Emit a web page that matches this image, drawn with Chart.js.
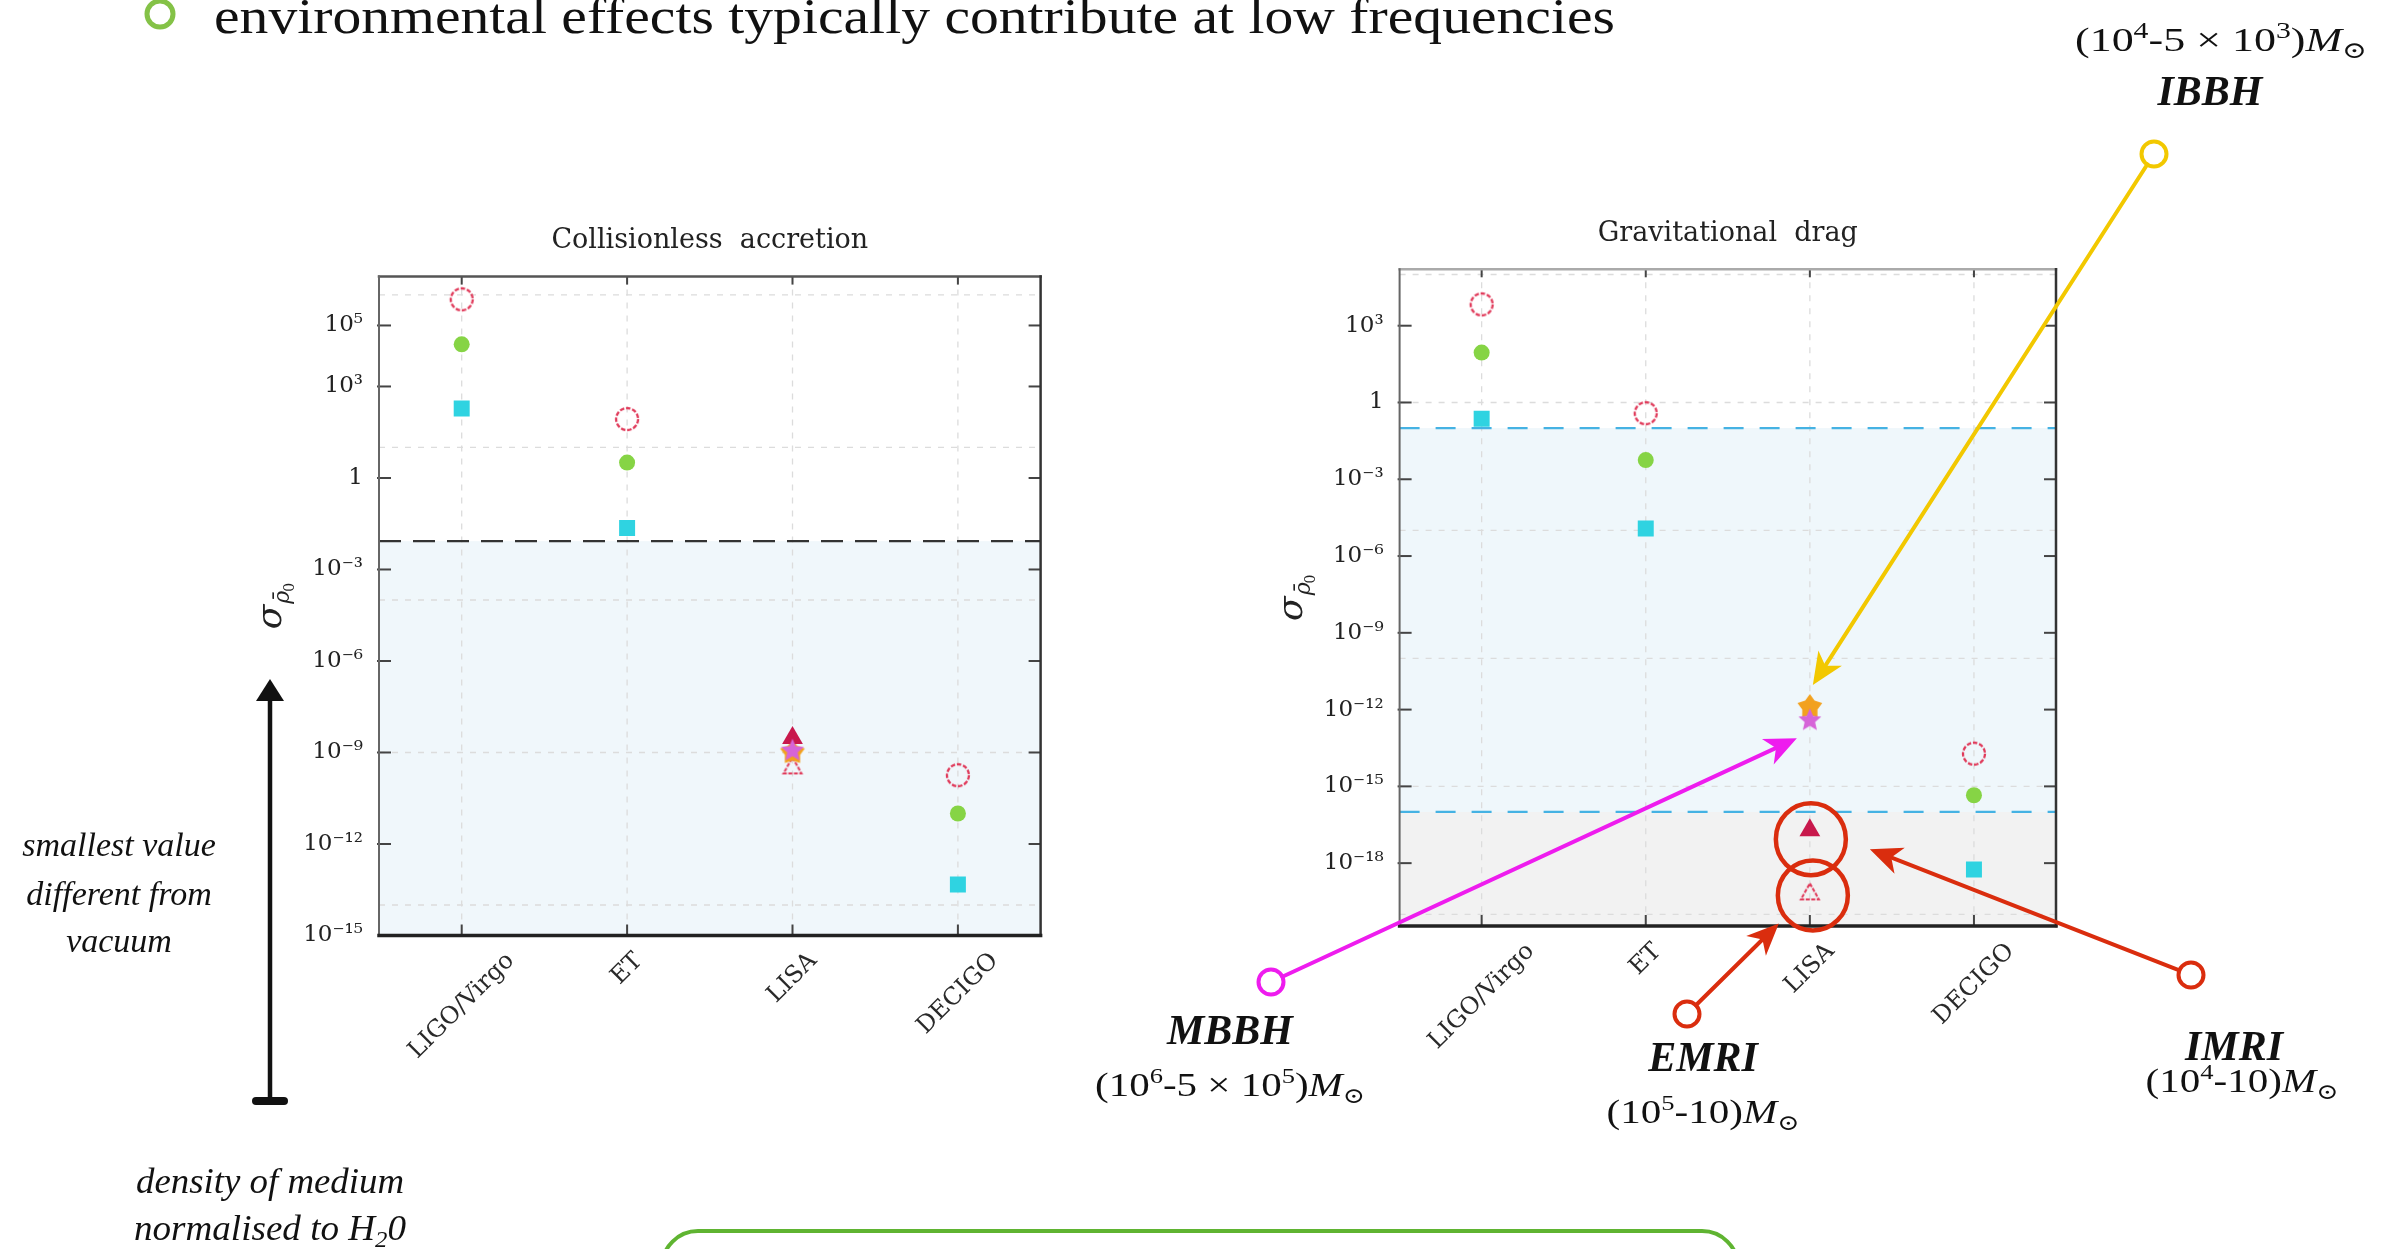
<!DOCTYPE html>
<html>
<head>
<meta charset="utf-8">
<title>Environmental effects</title>
<script src="https://cdn.jsdelivr.net/npm/chart.js@4.4.1/dist/chart.umd.min.js"></script>
<style>
  html, body { margin: 0; padding: 0; background: #fff; }
  body { width: 2396px; height: 1249px; position: relative; overflow: hidden; }
  canvas { position: absolute; }
  #accretion-chart { left: 0; top: 120px; }
  #drag-chart { left: 1180px; top: 120px; }
  #notes { position: absolute; left: 0; top: 0; pointer-events: none; }
  .tag { font-style: italic; font-weight: bold; font-size: 42px; text-anchor: middle; }
  .mass { font-size: 34px; text-anchor: middle; }
</style>
</head>
<body>
<canvas id="accretion-chart" width="1100" height="1000"></canvas>
<canvas id="drag-chart" width="1216" height="1000"></canvas>

<svg id="notes" width="2396" height="1249" xmlns="http://www.w3.org/2000/svg"
     font-family="'Liberation Serif', 'DejaVu Serif', serif" fill="#111">
  <circle cx="160" cy="14" r="13" fill="none" stroke="#84c247" stroke-width="5"/>
  <text x="214" y="33" font-size="50" textLength="1401" lengthAdjust="spacingAndGlyphs">environmental effects typically contribute at low frequencies</text>

  <text x="2221" y="51" font-size="34" text-anchor="middle" textLength="292" lengthAdjust="spacingAndGlyphs">(10<tspan font-size="23" dy="-13">4</tspan><tspan dy="13">-5 × 10</tspan><tspan font-size="23" dy="-13">3</tspan><tspan dy="13">)</tspan><tspan font-style="italic">M</tspan><tspan font-size="23" dy="7">⊙</tspan></text>
  <text class="tag" x="2210" y="105">IBBH</text>

  <g font-style="italic" font-size="34" text-anchor="middle">
    <text x="119" y="856">smallest value</text>
    <text x="119" y="905">different from</text>
    <text x="119" y="952">vacuum</text>
    <text x="270" y="1193" font-size="36" textLength="268" lengthAdjust="spacingAndGlyphs">density of medium</text>
    <text x="270" y="1240" font-size="36" textLength="272" lengthAdjust="spacingAndGlyphs">normalised to H<tspan font-size="24" dy="7">2</tspan><tspan dy="-7">0</tspan></text>
  </g>

  <text class="tag" x="1230" y="1044">MBBH</text>
  <text class="mass" x="1230" y="1096" textLength="270" lengthAdjust="spacingAndGlyphs">(10<tspan font-size="22" dy="-13">6</tspan><tspan dy="13">-5 × 10</tspan><tspan font-size="22" dy="-13">5</tspan><tspan dy="13">)</tspan><tspan font-style="italic">M</tspan><tspan font-size="22" dy="7">⊙</tspan></text>

  <text class="tag" x="1703" y="1071">EMRI</text>
  <text class="mass" x="1703" y="1123" textLength="193" lengthAdjust="spacingAndGlyphs">(10<tspan font-size="22" dy="-13">5</tspan><tspan dy="13">-10)</tspan><tspan font-style="italic">M</tspan><tspan font-size="22" dy="7">⊙</tspan></text>

  <text class="tag" x="2234" y="1060">IMRI</text>
  <text class="mass" x="2242" y="1092" textLength="193" lengthAdjust="spacingAndGlyphs">(10<tspan font-size="22" dy="-13">4</tspan><tspan dy="13">-10)</tspan><tspan font-style="italic">M</tspan><tspan font-size="22" dy="7">⊙</tspan></text>

  <rect x="662" y="1231" width="1076" height="120" rx="36" fill="none" stroke="#5fb431" stroke-width="4"/>
</svg>

<script>
// detectors on the x axis
const detectors = ['LIGO/Virgo', 'ET', 'LISA', 'DECIGO'];

// collisionless accretion: sigma of the normalised density per source class
const accretionCircle = [7.2e5, 85, null, 1.8e-10];
const accretionDot = [2.4e4, 3.2, null, 1.0e-11];
const accretionSquare = [190, 0.023, null, 4.7e-14];
const accretionTriangle = [null, null, 3.0e-9, null];
const accretionStar = [null, null, 1.15e-9, null];
const accretionDiamond = [null, null, 1.0e-9, null];
const accretionOpenTriangle = [null, null, 3.5e-10, null];
const accretionThreshold = 8.5e-3;
const accretionRange = [1e-15, 4e6];
const accretionTicks = [1e-15, 1e-12, 1e-9, 1e-6, 1e-3, 1, 1e3, 1e5];
const accretionTickLabels = ['10⁻¹⁵', '10⁻¹²', '10⁻⁹', '10⁻⁶', '10⁻³', '1', '10³', '10⁵'];
const accretionGrid = [1e-14, 1e-9, 1e-4, 10, 1e6];

// gravitational drag
const dragCircle = [6.8e3, 0.38, null, 1.9e-14];
const dragDot = [89, 5.6e-3, null, 4.5e-16];
const dragSquare = [0.23, 1.2e-5, null, 5.6e-19];
const dragTriangle = [null, null, 1.95e-17, null];
const dragStar = [null, null, 3.8e-13, null];
const dragDiamond = [null, null, 1.26e-12, null];
const dragOpenTriangle = [null, null, 7.2e-20, null];
const dragBand = [1e-16, 0.1];
const dragRange = [3.5e-21, 1.6e5];
const dragTicks = [1e-18, 1e-15, 1e-12, 1e-9, 1e-6, 1e-3, 1, 1e3];
const dragTickLabels = ['10⁻¹⁸', '10⁻¹⁵', '10⁻¹²', '10⁻⁹', '10⁻⁶', '10⁻³', '1', '10³'];
const dragGrid = [1e-20, 1e-15, 1e-10, 1e-5, 1, 1e5];

// --- marker images ---
function markerCanvas(size, draw) {
    const c = document.createElement('canvas');
    c.width = size;
    c.height = size;
    draw(c.getContext('2d'), size / 2);
    return c;
}

function starPath(ctx, cx, cy, outer, inner) {
    ctx.beginPath();
    for (let i = 0; i < 10; i++) {
        const r = i % 2 ? inner : outer;
        const a = -Math.PI / 2 + i * Math.PI / 5;
        ctx.lineTo(cx + r * Math.cos(a), cy + r * Math.sin(a));
    }
    ctx.closePath();
}

const openCircleMark = markerCanvas(30, (ctx, m) => {
    ctx.strokeStyle = '#e03a5a';
    ctx.lineWidth = 2.3;
    ctx.setLineDash([4.5, 1.8]);
    ctx.beginPath();
    ctx.arc(m, m, 11, 0, Math.PI * 2);
    ctx.stroke();
});
const openTriangleMark = markerCanvas(28, (ctx, m) => {
    ctx.strokeStyle = '#e03a5a';
    ctx.lineWidth = 2;
    ctx.setLineDash([4, 1.5]);
    ctx.beginPath();
    ctx.moveTo(m, m - 9);
    ctx.lineTo(m + 9, m + 7);
    ctx.lineTo(m - 9, m + 7);
    ctx.closePath();
    ctx.stroke();
});
const starMark = markerCanvas(28, (ctx, m) => {
    ctx.fillStyle = '#d664d8';
    starPath(ctx, m, m, 12, 5.5);
    ctx.fill();
});
const diamondMark = markerCanvas(30, (ctx, m) => {
    ctx.fillStyle = '#f2a11e';
    starPath(ctx, m, m, 13, 8);
    ctx.fill();
});

function buildDatasets(circle, dot, square, triangle, star, diamond, openTriangle) {
    return [
        { data: circle, pointStyle: openCircleMark, pointRadius: 13 },
        { data: dot, pointStyle: 'circle', pointRadius: 8, pointBackgroundColor: '#86d445' },
        { data: square, pointStyle: 'rect', pointRadius: 11.3, pointBackgroundColor: '#2fd3e1' },
        { data: star, pointStyle: starMark, pointRadius: 14 },
        { data: triangle, pointStyle: 'triangle', pointRadius: 12, pointBackgroundColor: '#c8184c' },
        { data: diamond, pointStyle: diamondMark, pointRadius: 15 },
        { data: openTriangle, pointStyle: openTriangleMark, pointRadius: 13 }
    ].map(d => Object.assign({ showLine: false, pointBorderWidth: 0, pointBorderColor: 'rgba(0,0,0,0)' }, d));
}

// --- drawing helpers ---
function line(ctx, x1, y1, x2, y2) {
    ctx.beginPath();
    ctx.moveTo(x1, y1);
    ctx.lineTo(x2, y2);
    ctx.stroke();
}

function ring(ctx, c, rx, ry, color, width) {
    ctx.strokeStyle = color;
    ctx.lineWidth = width;
    ctx.beginPath();
    ctx.ellipse(c.x, c.y, rx, ry, 0, 0, Math.PI * 2);
    ctx.stroke();
}

// small handle circle at 'from', line and barbed head ending at 'to'
function pointer(ctx, from, to, color) {
    const ang = Math.atan2(to.y - from.y, to.x - from.x);
    const cos = Math.cos(ang), sin = Math.sin(ang);
    const r = 12.5, len = 32, half = 14;
    ring(ctx, from, r, r, color, 4);
    const bx = to.x - cos * len, by = to.y - sin * len;
    ctx.lineWidth = 4;
    ctx.lineCap = 'round';
    line(ctx, from.x + cos * r, from.y + sin * r, bx + cos * 8, by + sin * 8);
    ctx.fillStyle = color;
    ctx.beginPath();
    ctx.moveTo(to.x, to.y);
    ctx.lineTo(bx - sin * half, by + cos * half);
    ctx.lineTo(bx + cos * 9, by + sin * 9);
    ctx.lineTo(bx + sin * half, by - cos * half);
    ctx.closePath();
    ctx.fill();
}

// --- frame, shading, grid and labels of one panel ---
function panelPlugin(cfg) {
    return {
        id: 'panel',
        beforeDatasetsDraw(chart) {
            const { ctx, chartArea: a, scales: { x, y } } = chart;
            ctx.save();
            cfg.bands.forEach(b => {
                const top = Math.max(a.top, y.getPixelForValue(b.to));
                const bottom = Math.min(a.bottom, y.getPixelForValue(b.from));
                ctx.fillStyle = b.color;
                ctx.fillRect(a.left, top, a.right - a.left, bottom - top);
            });
            ctx.strokeStyle = '#dcdcdc';
            ctx.lineWidth = 1.3;
            ctx.setLineDash([6, 7]);
            cfg.grid.forEach(v => {
                const py = y.getPixelForValue(v);
                if (py > a.top + 2 && py < a.bottom - 2) line(ctx, a.left, py, a.right, py);
            });
            detectors.forEach((_, i) => {
                const px = x.getPixelForValue(i);
                line(ctx, px, a.top, px, a.bottom);
            });
            cfg.thresholds.forEach(t => {
                const py = y.getPixelForValue(t.value);
                ctx.strokeStyle = t.color;
                ctx.lineWidth = 2.2;
                ctx.setLineDash(cfg.dash);
                line(ctx, a.left, py, a.right, py);
            });
            ctx.restore();
        },
        afterDatasetsDraw(chart) {
            const { ctx, chartArea: a, scales: { x, y } } = chart;
            ctx.save();
            // inward ticks
            ctx.strokeStyle = '#444';
            ctx.lineWidth = 2;
            cfg.ticks.forEach(v => {
                const py = y.getPixelForValue(v);
                if (py < a.top + 3 || py > a.bottom - 3) return;
                line(ctx, a.left - 2, py, a.left + 12, py);
                line(ctx, a.right, py, a.right - 12, py);
            });
            detectors.forEach((_, i) => {
                const px = x.getPixelForValue(i);
                line(ctx, px, a.top, px, a.top + 8);
                line(ctx, px, a.bottom, px, a.bottom - 11);
            });
            // frame
            ctx.lineCap = 'square';
            ctx.strokeStyle = cfg.topColor; ctx.lineWidth = 2.5;
            line(ctx, a.left, a.top, a.right, a.top);
            ctx.strokeStyle = '#666'; ctx.lineWidth = 2;
            line(ctx, a.left, a.top, a.left, a.bottom);
            ctx.strokeStyle = '#333'; ctx.lineWidth = 2.5;
            line(ctx, a.right, a.top, a.right, a.bottom);
            ctx.strokeStyle = '#222'; ctx.lineWidth = 3.5;
            line(ctx, a.left, a.bottom, a.right, a.bottom);
            ctx.restore();
        },
        afterDraw(chart) {
            const { ctx, chartArea: a, scales: { x } } = chart;
            ctx.save();
            // rotated detector names, centred under their ticks
            ctx.font = '24px "DejaVu Serif"';
            ctx.fillStyle = '#2a2a2a';
            ctx.textAlign = 'center';
            ctx.textBaseline = 'middle';
            detectors.forEach((label, i) => {
                const w = ctx.measureText(label).width;
                ctx.save();
                ctx.translate(x.getPixelForValue(i), a.bottom + 16 + (w / 2 + 8) * Math.SQRT1_2);
                ctx.rotate(-Math.PI / 4);
                ctx.fillText(label, 0, 0);
                ctx.restore();
            });
            // y axis symbol: sigma with rho-bar-zero subscript
            ctx.save();
            ctx.translate(a.left - 108, (a.top + a.bottom) / 2);
            ctx.rotate(-Math.PI / 2);
            ctx.textAlign = 'left';
            ctx.textBaseline = 'alphabetic';
            ctx.fillStyle = '#222';
            ctx.font = 'italic 36px "DejaVu Serif"';
            const sw = ctx.measureText('σ').width;
            ctx.font = 'italic 22px "DejaVu Serif"';
            const rw = ctx.measureText('ρ̄').width;
            const x0 = -(sw + rw + 9) / 2;
            ctx.font = 'italic 36px "DejaVu Serif"';
            ctx.fillText('σ', x0, 10);
            ctx.font = 'italic 22px "DejaVu Serif"';
            ctx.fillText('ρ̄', x0 + sw + 1, 18);
            ctx.font = '14px "DejaVu Serif"';
            ctx.fillText('0', x0 + sw + rw, 23);
            ctx.restore();
            if (cfg.notes) cfg.notes(chart);
            ctx.restore();
        }
    };
}

function panelOptions(cfg) {
    return {
        responsive: false,
        animation: false,
        events: [],
        layout: { padding: { left: 0, right: cfg.padRight, top: 0, bottom: 0 } },
        plugins: {
            legend: { display: false },
            tooltip: { enabled: false },
            title: {
                display: true,
                text: cfg.title,
                fullSize: false,
                color: '#222',
                font: { family: 'DejaVu Serif', size: 27, weight: 'normal', lineHeight: 1.2 },
                padding: { top: cfg.titleTop, bottom: cfg.titleBottom }
            }
        },
        scales: {
            x: {
                type: 'category',
                offset: true,
                grid: { display: false },
                border: { display: false },
                ticks: { display: false },
                afterFit: s => { s.height = cfg.xHeight; }
            },
            y: {
                type: 'logarithmic',
                min: cfg.range[0],
                max: cfg.range[1],
                grid: { display: false },
                border: { display: false },
                afterBuildTicks: s => { s.ticks = cfg.ticks.map(v => ({ value: v })); },
                afterFit: s => { s.width = cfg.yWidth; },
                ticks: {
                    autoSkip: false,
                    padding: 8,
                    color: '#222',
                    font: { family: 'DejaVu Serif', size: 23 },
                    callback: v => cfg.tickLabels[cfg.ticks.indexOf(v)]
                }
            }
        }
    };
}

// black "density" arrow beside the accretion panel
function drawAccretionNotes(chart) {
    const ctx = chart.ctx;
    const top = 679 - 120, bottom = 1101 - 120, ax = 270;
    ctx.save();
    ctx.strokeStyle = '#111';
    ctx.fillStyle = '#111';
    ctx.lineWidth = 4.5;
    line(ctx, ax, top + 18, ax, bottom);
    ctx.beginPath();
    ctx.moveTo(ax, top);
    ctx.lineTo(ax + 14, top + 22);
    ctx.lineTo(ax - 14, top + 22);
    ctx.closePath();
    ctx.fill();
    ctx.lineWidth = 8;
    ctx.lineCap = 'round';
    line(ctx, ax - 14, bottom, ax + 14, bottom);
    ctx.restore();
}

// source-class callouts on the drag panel
function drawDragNotes(chart) {
    const { ctx, scales: { x, y } } = chart;
    const page = (px, py) => ({ x: px - 1180, y: py - 120 });
    const lisa = x.getPixelForValue(2);
    const at = (v, dx, dy) => ({ x: lisa + dx, y: y.getPixelForValue(v) + dy });
    const red = '#da2d0e';
    const upperRing = at(dragTriangle[2], 1, 9);
    const lowerRing = at(dragOpenTriangle[2], 3, 3);
    ctx.save();
    ring(ctx, upperRing, 35, 36, red, 4.5);
    ring(ctx, lowerRing, 35, 35, red, 4.5);
    pointer(ctx, page(2154, 154), at(dragDiamond[2], 3, -22), '#f2c800');
    pointer(ctx, page(1271, 982), at(dragStar[2], -13, 18), '#ee1cee');
    pointer(ctx, page(1687, 1014), { x: lowerRing.x - 34, y: lowerRing.y + 28 }, red);
    pointer(ctx, page(2191, 975), { x: upperRing.x + 59, y: upperRing.y + 10 }, red);
    ctx.restore();
}

const accretionCfg = {
    title: 'Collisionless  accretion',
    range: accretionRange,
    ticks: accretionTicks,
    tickLabels: accretionTickLabels,
    grid: accretionGrid,
    bands: [{ from: accretionRange[0], to: accretionThreshold, color: '#f0f7fb' }],
    thresholds: [{ value: accretionThreshold, color: '#333' }],
    dash: [22, 12],
    topColor: '#555',
    yWidth: 379,
    padRight: 59.4,
    xHeight: 184.5,
    titleTop: 104.8,
    titleBottom: 19.4,
    notes: drawAccretionNotes
};

const dragCfg = {
    title: 'Gravitational  drag',
    range: dragRange,
    ticks: dragTicks,
    tickLabels: dragTickLabels,
    grid: dragGrid,
    bands: [
        { from: dragRange[0], to: dragBand[0], color: '#f2f2f2' },
        { from: dragBand[0], to: dragBand[1], color: '#eff7fb' }
    ],
    thresholds: [
        { value: dragBand[0], color: '#45b2e3' },
        { value: dragBand[1], color: '#45b2e3' }
    ],
    dash: [20, 16],
    topColor: '#aaa',
    yWidth: 219.6,
    padRight: 340,
    xHeight: 194,
    titleTop: 97.8,
    titleBottom: 19.1,
    notes: drawDragNotes
};

new Chart(document.getElementById('accretion-chart'), {
    type: 'line',
    data: {
        labels: detectors,
        datasets: buildDatasets(accretionCircle, accretionDot, accretionSquare, accretionTriangle,
            accretionStar, accretionDiamond, accretionOpenTriangle)
    },
    options: panelOptions(accretionCfg),
    plugins: [panelPlugin(accretionCfg)]
});

new Chart(document.getElementById('drag-chart'), {
    type: 'line',
    data: {
        labels: detectors,
        datasets: buildDatasets(dragCircle, dragDot, dragSquare, dragTriangle,
            dragStar, dragDiamond, dragOpenTriangle)
    },
    options: panelOptions(dragCfg),
    plugins: [panelPlugin(dragCfg)]
});
</script>
</body>
</html>
